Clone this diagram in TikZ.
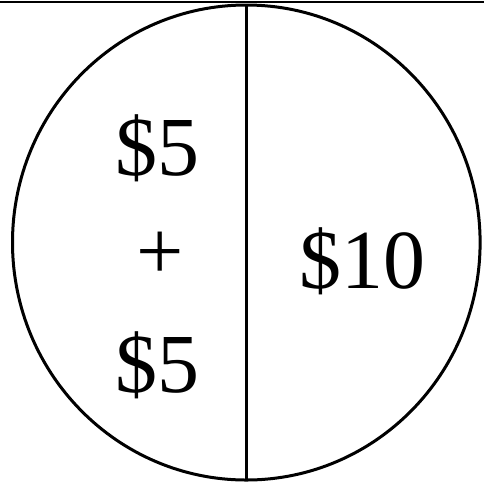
\documentclass[tikz,border=0pt]{standalone}
\usepackage{fontspec}
\setmainfont{Liberation Serif}
\begin{document}
\begin{tikzpicture}[x=1pt,y=-1pt,
  money/.style={inner sep=0pt,anchor=base,font=\fontsize{84}{84}\selectfont},
  plussign/.style={inner sep=0pt,anchor=center,font=\fontsize{84}{84}\selectfont},
  outline/.style={line width=3pt,black}]
\useasboundingbox (0,0) rectangle (484,483);
\fill[white] (0,0) rectangle (484,483);
\draw[line width=1.2pt] (0,2) -- (484,2);
\draw[line width=2pt] (0,2.3) -- (9,2.3);
\draw[outline] (246.3,242.5) ellipse [x radius=233.8, y radius=237.5];
\coordinate (top) at (246,5);
\coordinate (bot) at (246,480);
\draw[outline] (top) -- (bot);
\node[money] (a) at (157,175) {\$5};
\node[plussign] (p) at (160,256) {+};
\node[money] (b) at (157,392) {\$5};
\node[money] (c) at (362,288) {\$10};
\end{tikzpicture}
\end{document}
